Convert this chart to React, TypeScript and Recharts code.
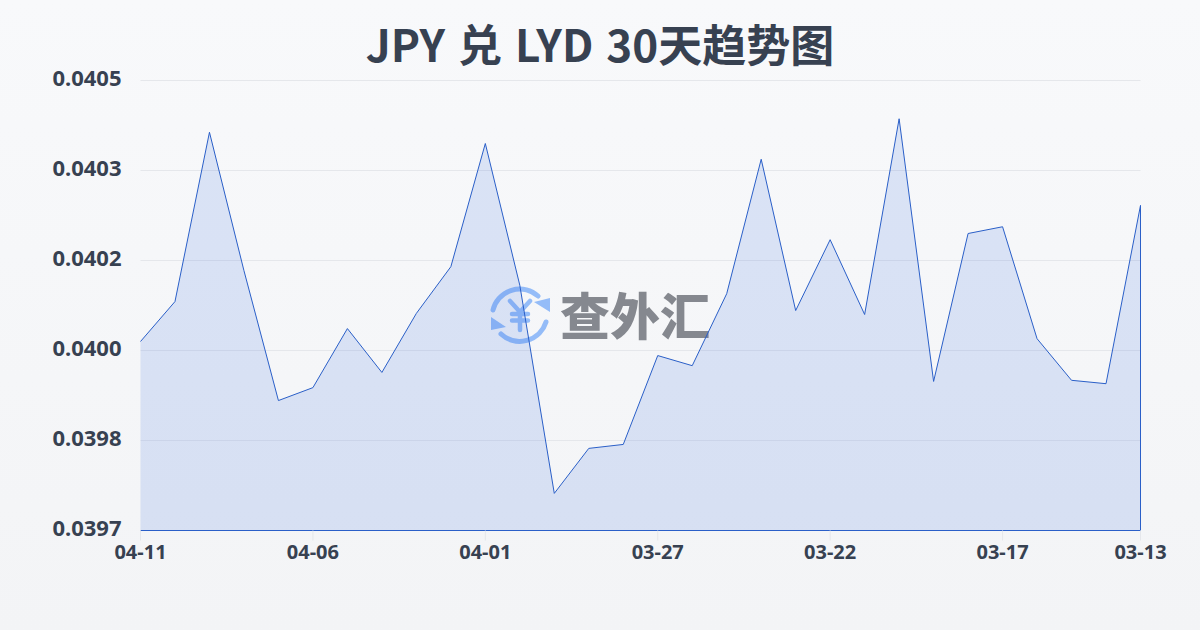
import { AreaChart, Area, XAxis, YAxis, CartesianGrid, ReferenceLine } from "recharts";

const dates = [
  "04-11", "04-10", "04-09", "04-08", "04-07", "04-06", "04-05", "04-04", "04-03", "04-02",
  "04-01", "03-31", "03-30", "03-29", "03-28", "03-27", "03-26", "03-25", "03-24", "03-23",
  "03-22", "03-21", "03-20", "03-19", "03-18", "03-17", "03-16", "03-15", "03-14", "03-13",
];
const rates = [
  0.040016, 0.040087, 0.040388, 0.040142, 0.039911, 0.039934, 0.040039, 0.039961, 0.040066, 0.040149,
  0.040368, 0.040116, 0.039746, 0.039826, 0.039833, 0.039991, 0.039973, 0.040101, 0.04034, 0.040071,
  0.040197, 0.040064, 0.040412, 0.039945, 0.040208, 0.04022, 0.040021, 0.039947, 0.039941, 0.040258,
];
const xTicks = ["04-11", "04-06", "04-01", "03-27", "03-22", "03-17", "03-13"];
const yTicks = [0.03968, 0.03984, 0.04, 0.04016, 0.04032, 0.04048];

const LINE = "#2a5fc8";
const TEXT = "#374151";
const SANS = '"Noto Sans", "Noto Sans CJK SC", sans-serif';
const CJK = '"Noto Sans CJK SC", "Noto Sans", sans-serif';

const chartData = dates.map((date, i) => ({ date, rate: rates[i] }));
const yMin = yTicks[0];
const yMax = yTicks[yTicks.length - 1];
const first = chartData[0];
const last = chartData[chartData.length - 1];

// logo + name sitting behind the plot
function Watermark() {
  return (
    <div style={{ position: "absolute", left: 470, top: 270, width: 260, height: 90 }}>
      <svg width={90} height={90} viewBox="0 0 90 90" style={{ position: "absolute", left: 0, top: 0 }}>
        <g fill="none" stroke="#94bcf8" strokeWidth={5} strokeLinecap="round">
          <path d="M23 40 A27.5 27.5 0 0 1 68 26" />
          <path d="M76 52 A27.5 27.5 0 0 1 31 64" />
          <path d="M40 31 L50 42 L60 31 M50 42 V60 M42 44 H58 M42 50.5 H58" strokeWidth={4.5} />
        </g>
        <path d="M80 28 V42 L64 32 Z M21 47 V60 L36 57 Z" fill="#94bcf8" />
      </svg>
      <div
        style={{
          position: "absolute",
          left: 90,
          top: 8,
          fontFamily: CJK,
          fontWeight: 900,
          fontSize: 50,
          lineHeight: "70px",
          color: "#85888f",
          whiteSpace: "nowrap",
        }}
      >
        查外汇
      </div>
    </div>
  );
}

export default function App() {
  return (
    <div
      style={{
        position: "absolute",
        left: 0,
        top: 0,
        width: 1200,
        height: 630,
        overflow: "hidden",
        background: "linear-gradient(180deg, #f8f9fb 0%, #f3f4f6 100%)",
      }}
    >
      <div
        style={{
          position: "absolute",
          left: 0,
          top: 11,
          width: 1200,
          textAlign: "center",
          fontFamily: CJK,
          fontWeight: 700,
          fontSize: 44,
          lineHeight: "64px",
          wordSpacing: 3,
          color: TEXT,
          whiteSpace: "pre",
        }}
      >
        JPY 兑 LYD 30天趋势图
      </div>
      <Watermark />
      <div style={{ position: "absolute", left: 0, top: 0 }}>
        <AreaChart width={1200} height={630} data={chartData} margin={{ top: 80.5, right: 59.5, left: 0.5, bottom: 0 }}>
          <CartesianGrid vertical={false} stroke="#e5e7eb" strokeWidth={1} />
          <XAxis
            dataKey="date"
            ticks={xTicks}
            interval={0}
            height={99.5}
            tickMargin={4}
            tickSize={10}
            tick={{ fontSize: 20, fontWeight: 700, fill: TEXT, fontFamily: SANS }}
            tickLine={{ stroke: "#e5e7eb" }}
            axisLine={{ stroke: LINE, strokeWidth: 1 }}
          />
          <YAxis
            width={140}
            domain={[yMin, yMax]}
            ticks={yTicks}
            tickFormatter={(v: number) => v.toFixed(4)}
            tickLine={false}
            axisLine={false}
            tickMargin={13}
            tick={{ fontSize: 22, fontWeight: 700, fill: TEXT, fontFamily: SANS, dy: -2 }}
          />
          <Area
            type="linear"
            dataKey="rate"
            stroke={LINE}
            strokeWidth={1}
            fill="#346add"
            fillOpacity={0.15}
            dot={false}
            activeDot={false}
            isAnimationActive={false}
          />
          {/* the outline closes down to the axis on both ends */}
          <ReferenceLine
            segment={[{ x: first.date, y: yMin }, { x: first.date, y: first.rate }]}
            stroke={LINE}
            strokeWidth={1}
          />
          <ReferenceLine
            segment={[{ x: last.date, y: yMin }, { x: last.date, y: last.rate }]}
            stroke={LINE}
            strokeWidth={1}
          />
        </AreaChart>
      </div>
    </div>
  );
}
